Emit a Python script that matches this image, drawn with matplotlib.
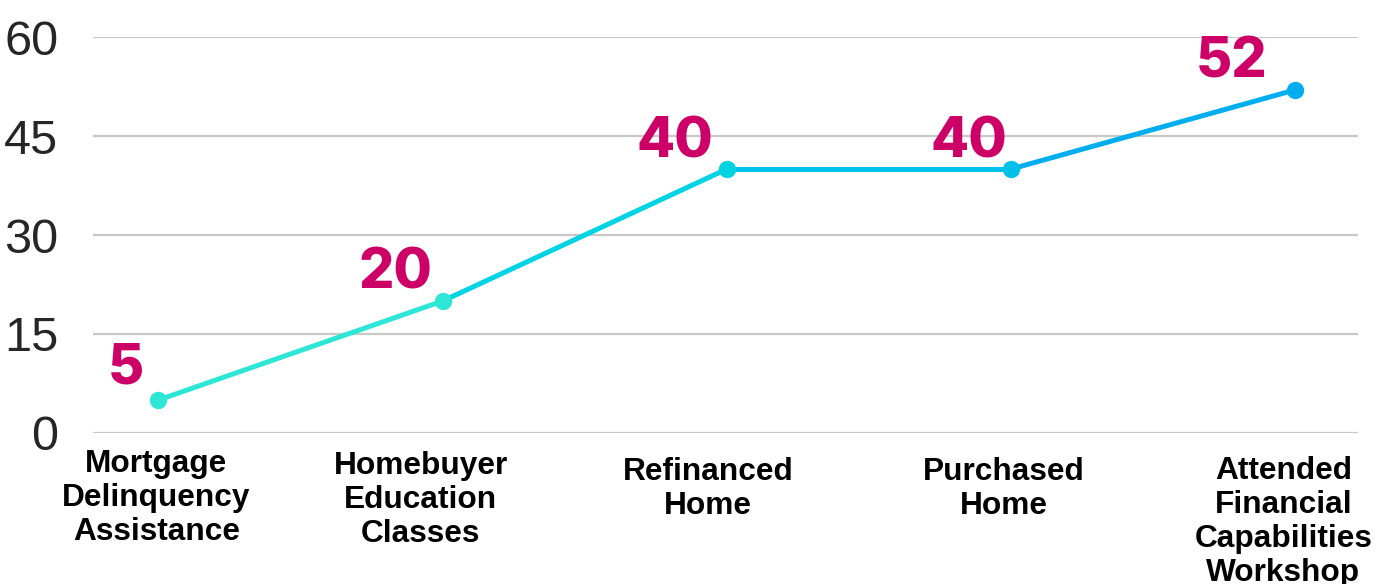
import matplotlib.pyplot as plt
from matplotlib.transforms import offset_copy

# dados do gráfico
categorias = ["Mortgage\nDelinquency\nAssistance", "Homebuyer\nEducation\nClasses",
              "Refinanced\nHome", "Purchased\nHome",
              "Attended\nFinancial\nCapabilities\nWorkshop"]
valores = [5, 20, 40, 40, 52]
y_ticks = [0, 15, 30, 45, 60]

# cores de cada segmento / marcador (gradiente turquesa -> azul)
cores_segmento = ["#2EE6D6", "#00D3E3", "#00C2EC", "#00AEEF"]
cores_ponto = ["#2EE6D6", "#2EE6D6", "#00D2E2", "#00C0EA", "#00AEEF"]
# deslocamento dos rótulos de valor (pixels)
desloc = [(-14, 5), (-10, 1), (-14, 1), (-4, 1), (-28, 1)]
# deslocamento dos rótulos do eixo x (pixels)
desloc_x = [(-2, -16), (-22, -18), (-19, -24), (-7, -24), (-12, -23)]

fig = plt.figure(figsize=(13.89, 5.84), dpi=100)
ax = fig.add_axes([0.067, 0.2586, 0.9107, 0.678])

x = list(range(len(valores)))
for i in range(len(valores) - 1):
    ax.plot(x[i:i + 2], valores[i:i + 2], color=cores_segmento[i], lw=3.6,
            solid_capstyle="round", zorder=3)
for i, v in enumerate(valores):
    ax.plot(x[i], v, "o", color=cores_ponto[i], ms=11.5, zorder=4)
    ax.annotate(str(v), (x[i], v), xytext=desloc[i], textcoords="offset pixels",
                ha="right", va="bottom", fontsize=40, fontweight="heavy",
                family="Inter", color="#CC0066", zorder=5)

# rótulos do eixo x como texto (permite deslocar cada um)
for i, cat in enumerate(categorias):
    dx, dy = desloc_x[i]
    tr = offset_copy(ax.get_xaxis_transform(), fig=fig, x=dx, y=dy, units="dots")
    ax.text(x[i], 0, cat, transform=tr, ha="center", va="top", fontsize=22.8,
            fontweight="bold", family="Liberation Sans", linespacing=1.18,
            multialignment="center")

ax.set_ylim(0, 60)
ax.set_xlim(-0.23, 4.22)
ax.set_yticks(y_ticks)
ax.set_yticklabels([str(t) for t in y_ticks], fontsize=35, family="Liberation Sans",
                   color="#262626")
ax.set_xticks(x)
ax.set_xticklabels([])
ax.tick_params(axis="y", length=0, pad=25)
ax.tick_params(axis="x", length=0)
ax.grid(axis="y", color="#C8C8C8", lw=1.6)
ax.set_axisbelow(True)
for s in ax.spines.values():
    s.set_visible(False)

plt.savefig("out.png", dpi=100)
